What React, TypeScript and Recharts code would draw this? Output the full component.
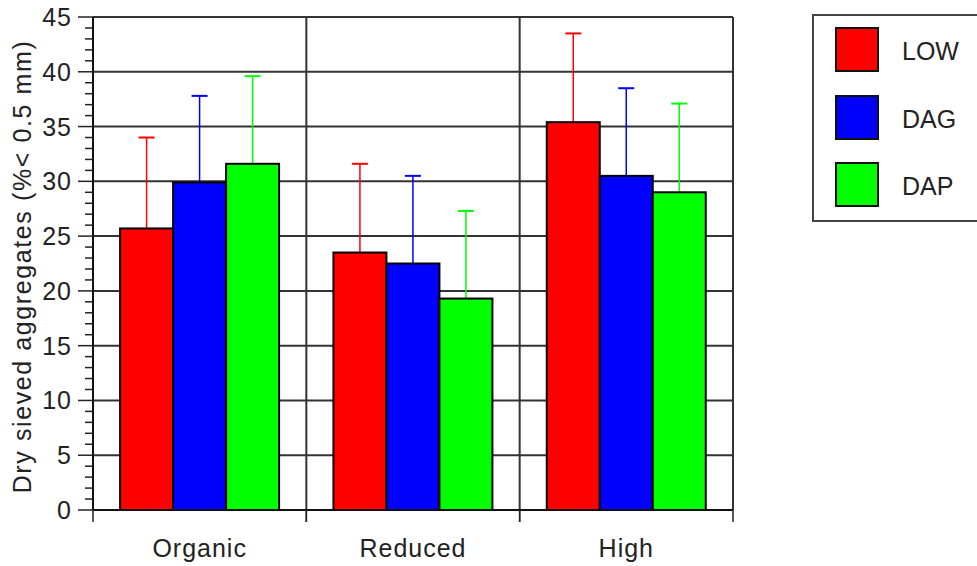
import React from "react";
import {
  BarChart,
  Bar,
  XAxis,
  YAxis,
  CartesianGrid,
  Legend,
} from "recharts";

const categories = ["Organic", "Reduced", "High"];
const seriesNames = ["LOW", "DAG", "DAP"];
const lowValues = [25.7, 23.5, 35.4];
const lowErrors = [8.3, 8.1, 8.1];
const dagValues = [29.9, 22.5, 30.5];
const dagErrors = [7.9, 8.0, 8.0];
const dapValues = [31.6, 19.3, 29.0];
const dapErrors = [8.0, 8.0, 8.1];

const majorTicks = [0, 5, 10, 15, 20, 25, 30, 35, 40, 45];
const allTicks = Array.from({ length: 46 }, (_, i) => i);

const FONT = "'Liberation Sans', Arial, sans-serif";

const chartData = categories.map((name, i) => ({
  name,
  low: lowValues[i],
  lowErr: lowErrors[i],
  dag: dagValues[i],
  dagErr: dagErrors[i],
  dap: dapValues[i],
  dapErr: dapErrors[i],
}));

// bar with an upper-only error whisker, sized from the bar's own scale
function makeShape(key: string, errKey: string, color: string) {
  return (props: any) => {
    const { x, y, width, height, payload } = props;
    const value = payload[key];
    const err = payload[errKey];
    const pxPerUnit = value ? height / value : 0;
    const top = y - err * pxPerUnit;
    const cx = x + width / 2;
    return (
      <g>
        <line x1={cx} y1={y} x2={cx} y2={top} stroke={color} strokeWidth={1.5} />
        <line x1={cx - 8} y1={top} x2={cx + 8} y2={top} stroke={color} strokeWidth={2} />
        <rect x={x} y={y} width={width} height={height} fill={color} stroke="#000" strokeWidth={2} />
      </g>
    );
  };
}

const YTick = (props: any) => {
  const { x, y, payload } = props;
  const v = payload.value;
  const major = majorTicks.includes(v);
  const len = major ? 15 : 8;
  return (
    <g>
      <line x1={x - len} y1={y} x2={x} y2={y} stroke="#222" strokeWidth={1.5} />
      {major && (
        <text
          x={x - 21}
          y={y + 9}
          textAnchor="end"
          fontSize={25}
          fontFamily={FONT}
          fill="#222"
          letterSpacing={1}
        >
          {v}
        </text>
      )}
    </g>
  );
};

const XTick = (props: any) => {
  const { x, y, payload, width, visibleTicksCount } = props;
  const half =
    width && visibleTicksCount ? width / visibleTicksCount / 2 : payload.offset ?? 0;
  return (
    <g>
      <line x1={x - half} y1={y} x2={x - half} y2={y + 12} stroke="#222" strokeWidth={1.5} />
      <line x1={x + half} y1={y} x2={x + half} y2={y + 12} stroke="#222" strokeWidth={1.5} />
      <text
        x={x}
        y={y + 47}
        textAnchor="middle"
        fontSize={25}
        fontFamily={FONT}
        fill="#222"
        letterSpacing={1}
      >
        {payload.value}
      </text>
    </g>
  );
};

const YLabel = (props: any) => {
  const vb = props.viewBox || { x: 0, y: 17, width: 93, height: 493 };
  const cx = vb.x + 31;
  const cy = vb.y + vb.height / 2 + 3;
  return (
    <text
      x={cx}
      y={cy}
      transform={`rotate(-90, ${cx}, ${cy})`}
      textAnchor="middle"
      fontSize={25}
      fontFamily={FONT}
      fill="#222"
      letterSpacing={1.6}
    >
      Dry sieved aggregates (%&lt; 0.5 mm)
    </text>
  );
};

const LegendBox = (props: any) => {
  const items = [...(props.payload || [])].sort(
    (a: any, b: any) => seriesNames.indexOf(a.value) - seriesNames.indexOf(b.value)
  );
  return (
    <div
      style={{
        position: "relative",
        width: 165,
        height: 208,
        boxSizing: "border-box",
        border: "2px solid #444",
        borderRight: "none",
        background: "#fff",
        fontFamily: FONT,
      }}
    >
      {items.map((item: any, i: number) => (
        <div key={item.value}>
          <div
            style={{
              position: "absolute",
              left: 21,
              top: 11 + i * 67.5,
              width: 44,
              height: 45,
              boxSizing: "border-box",
              background: item.color,
              border: "2px solid #111",
            }}
          />
          <div
            style={{
              position: "absolute",
              left: 88,
              top: 13 + i * 67.5,
              height: 45,
              lineHeight: "45px",
              fontSize: 25,
              color: "#222",
            }}
          >
            {item.value}
          </div>
        </div>
      ))}
    </div>
  );
};

export default function App() {
  return (
    <div style={{ position: "absolute", left: 0, top: 0, background: "#fff" }}>
      <BarChart
        width={977}
        height={566}
        data={chartData}
        margin={{ top: 17, right: 244, left: 0, bottom: 0 }}
        barCategoryGap="12.7%"
        barGap={0}
      >
        <CartesianGrid
          stroke="#333"
          strokeWidth={2}
          horizontalValues={majorTicks.slice(1)}
          verticalCoordinatesGenerator={(args: any) => {
            const o = args.offset;
            return [o.left + o.width / 3, o.left + (2 * o.width) / 3, o.left + o.width];
          }}
        />
        <XAxis
          dataKey="name"
          interval={0}
          tickLine={false}
          tickSize={0}
          tickMargin={0}
          height={56}
          axisLine={{ stroke: "#111", strokeWidth: 2 }}
          tick={XTick}
        />
        <YAxis
          type="number"
          domain={[0, 45]}
          ticks={allTicks}
          interval={0}
          tickLine={false}
          tickSize={0}
          tickMargin={0}
          width={93}
          axisLine={{ stroke: "#111", strokeWidth: 2 }}
          tick={YTick}
          label={YLabel}
        />
        <Legend
          layout="horizontal"
          verticalAlign="middle"
          align="center"
          wrapperStyle={{ position: "absolute", left: 812, top: 14, width: 165, height: 208 }}
          content={LegendBox}
        />
        <Bar dataKey="low" name="LOW" fill="#ff0000" isAnimationActive={false} shape={makeShape("low", "lowErr", "#ff0000")} />
        <Bar dataKey="dag" name="DAG" fill="#0000ff" isAnimationActive={false} shape={makeShape("dag", "dagErr", "#0000ff")} />
        <Bar dataKey="dap" name="DAP" fill="#00ff00" isAnimationActive={false} shape={makeShape("dap", "dapErr", "#00ff00")} />
      </BarChart>
    </div>
  );
}
